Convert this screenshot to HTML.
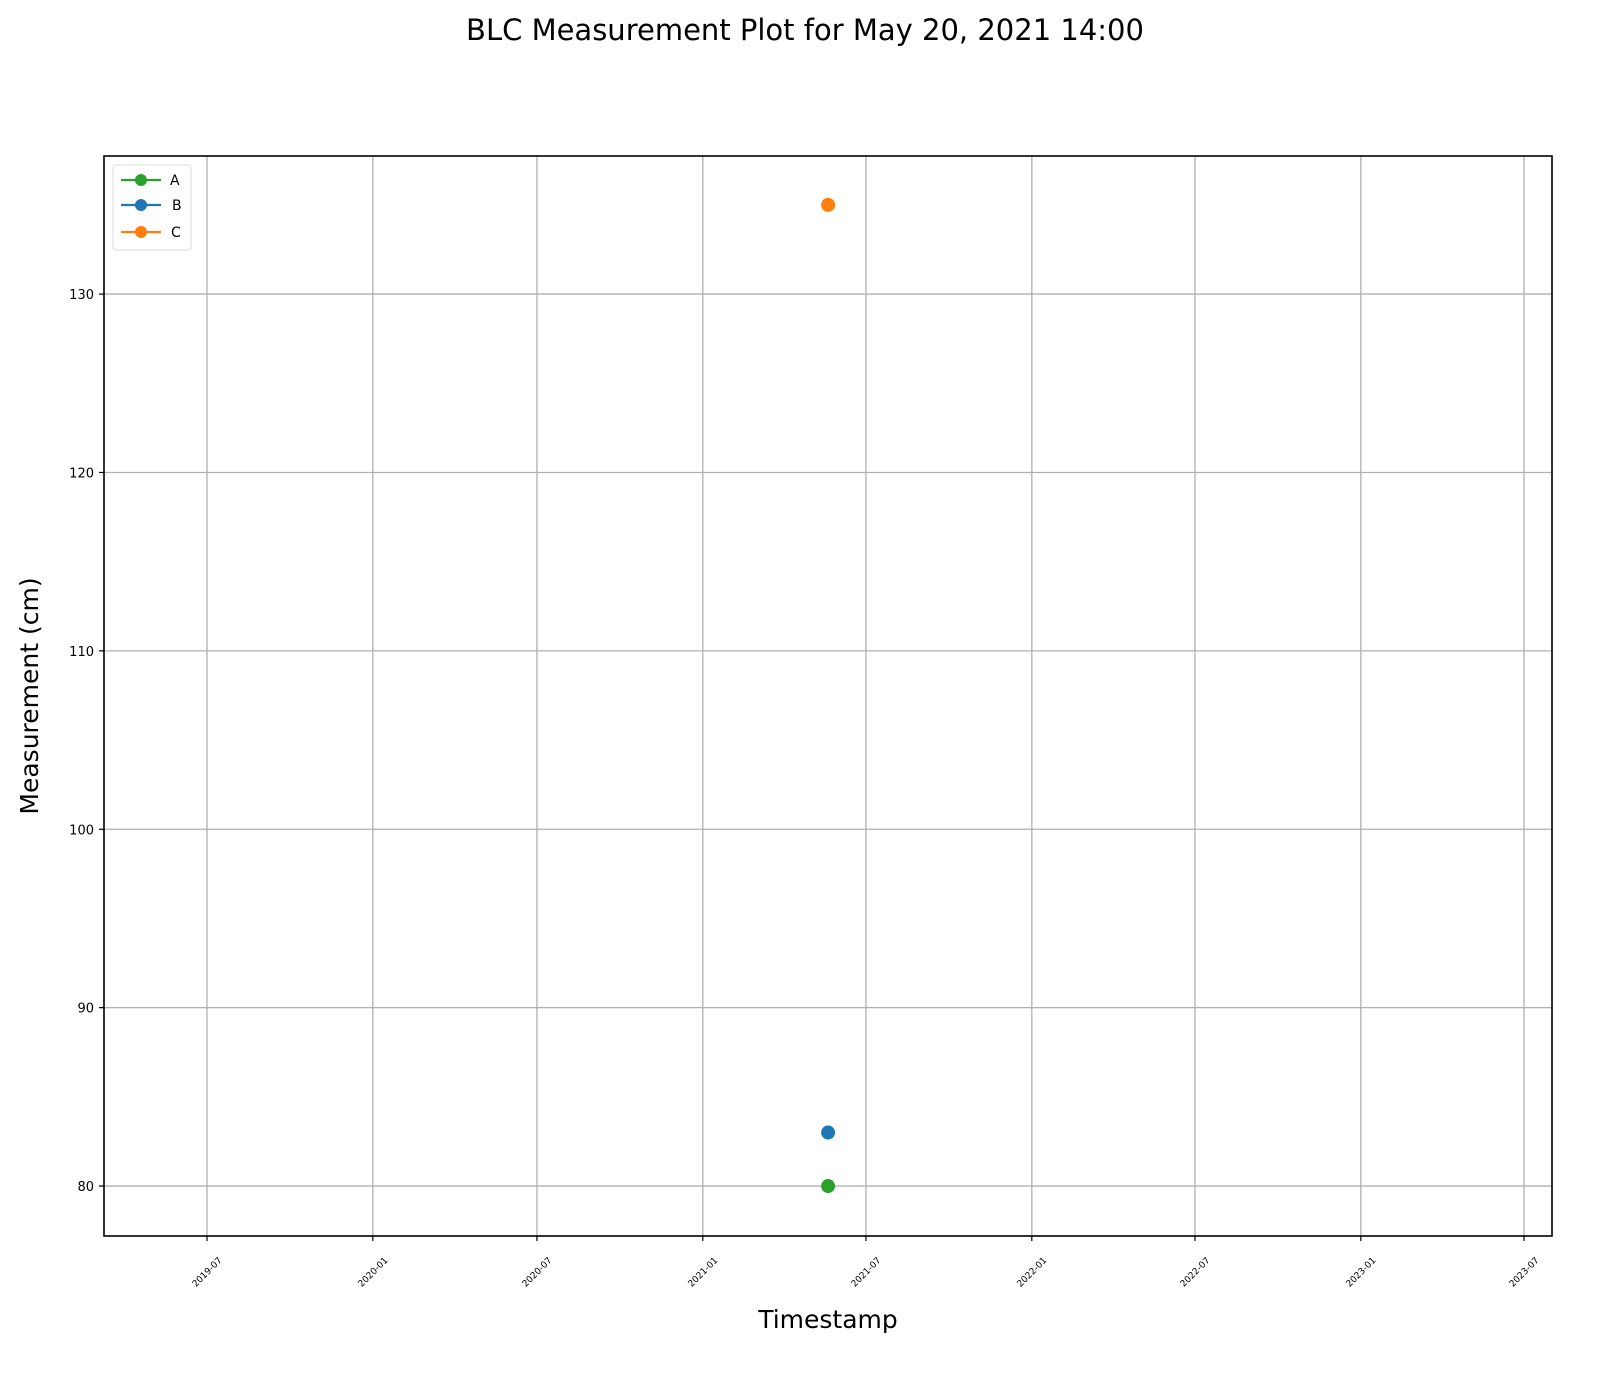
<!DOCTYPE html>
<html><head><meta charset="utf-8"><style>body{margin:0;background:#fff}svg{display:block}text{font-family:"DejaVu Sans","Liberation Sans",sans-serif}</style></head>
<body>
<svg id="chart" width="1610" height="1387" xmlns="http://www.w3.org/2000/svg">
<text x="805" y="40" font-size="29" text-anchor="middle">BLC Measurement Plot for May 20, 2021 14:00</text>
<g id="grid"></g><g id="axes"></g><g id="marks"></g>
<rect x="104" y="156" width="1448" height="1080" fill="none" stroke="#000" stroke-width="1.6"/>
<text x="828" y="1328" font-size="25" text-anchor="middle">Timestamp</text>
<text transform="translate(38,696) rotate(-90)" font-size="25" text-anchor="middle">Measurement (cm)</text>
<g>
<rect x="113" y="165" width="78" height="85" rx="3" fill="#fff" stroke="#ddd"/>
<g><line x1="121" y1="180" x2="161" y2="180" stroke="#2ca02c" stroke-width="2.2"/><circle cx="141" cy="180" r="6" fill="#2ca02c"/><text x="170" y="185" font-size="14">A</text></g>
<g><line x1="121" y1="205" x2="161" y2="205" stroke="#1f77b4" stroke-width="2.2"/><circle cx="141" cy="205" r="6" fill="#1f77b4"/><text x="172" y="210" font-size="14">B</text></g>
<g><line x1="121" y1="232" x2="161" y2="232" stroke="#ff7f0e" stroke-width="2.2"/><circle cx="141" cy="232" r="6" fill="#ff7f0e"/><text x="171" y="237" font-size="14">C</text></g>
</g>
</svg>
<script>
const xTickLabels=["2019-07","2020-01","2020-07","2021-01","2021-07","2022-01","2022-07","2023-01","2023-07"];
const yTicks=[80,90,100,110,120,130];
const seriesNames=["A","B","C"];
const seriesColors=["#2ca02c","#1f77b4","#ff7f0e"];
const seriesDates=["2021-05-20","2021-05-20","2021-05-20"];
const seriesValues=[80,83,135];
const NS="http://www.w3.org/2000/svg";
const L=104,R=1552,T=156,B=1236;
const d0=Date.UTC(2019,6,1),pxPerDay=(1524-207)/1461;
function dayOf(s){const p=s.split("-").map(Number);return (Date.UTC(p[0],p[1]-1,p[2]||1)-d0)/864e5;}
function xs(s){return 207+dayOf(s)*pxPerDay;}
const yMin=77.2,yMax=137.74;
function ys(v){return B-(v-yMin)/(yMax-yMin)*(B-T);}
function mk(t,a,p){const e=document.createElementNS(NS,t);for(const k in a)e.setAttribute(k,a[k]);p.appendChild(e);return e;}
const grid=document.getElementById("grid"),axes=document.getElementById("axes"),marks=document.getElementById("marks");
xTickLabels.forEach(l=>{const x=xs(l);
const g=mk("line",{x1:x,x2:x,y1:T,y2:B,stroke:"#b0b0b0","stroke-width":1.3},grid);


mk("line",{x1:x,x2:x,y1:B,y2:B+5,stroke:"#000","stroke-width":1.2},axes);
const t=mk("text",{x:x,y:1275,"font-size":9,"text-anchor":"middle",transform:`rotate(-45 ${x} 1272)`},axes);t.textContent=l;

});
yTicks.forEach(v=>{const y=ys(v);
const g=mk("line",{x1:L,x2:R,y1:y,y2:y,stroke:"#b0b0b0","stroke-width":1.3},grid);


mk("line",{x1:L-5,x2:L,y1:y,y2:y,stroke:"#000","stroke-width":1.2},axes);
const t=mk("text",{x:L-10,y:y+5,"font-size":13,"text-anchor":"end"},axes);t.textContent=v;

});
seriesNames.forEach((n,i)=>{const c=mk("circle",{cx:xs(seriesDates[i]),cy:ys(seriesValues[i]),r:7,fill:seriesColors[i]},marks);

});
</script>
</body></html>
